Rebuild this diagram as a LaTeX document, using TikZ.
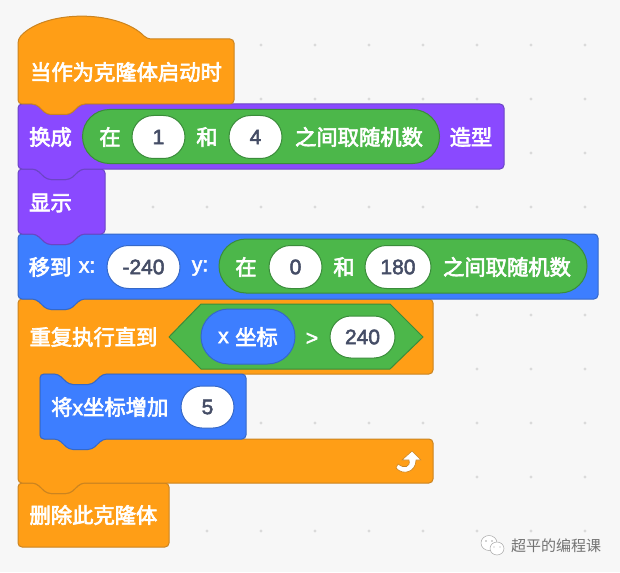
\documentclass[tikz,border=0pt]{standalone}
\usepackage{fontspec}
\usetikzlibrary{shapes.misc}
\setmainfont{Liberation Sans}
\newfontfamily\cjk[FakeBold=3]{Noto Sans CJK SC}
\newfontfamily\lat[FakeBold=2.5]{Liberation Sans}
\newfontfamily\wm{Noto Sans CJK SC}
\definecolor{bg}{HTML}{F7F7F7}
\definecolor{dotc}{HTML}{DADADA}
\definecolor{og}{HTML}{FF9E16}
\definecolor{ogd}{HTML}{CB8420}
\definecolor{pu}{HTML}{8A49FF}
\definecolor{pud}{HTML}{6B45C4}
\definecolor{bl}{HTML}{3D7EFF}
\definecolor{bld}{HTML}{3568C8}
\definecolor{gr}{HTML}{4CB74A}
\definecolor{grd}{HTML}{3A8C3A}
\definecolor{ink}{HTML}{454D66}
\tikzset{
  blk/.style={line width=1pt,rounded corners=4pt,line join=round},
  orangeblk/.style={blk,fill=og,draw=ogd},
  purpleblk/.style={blk,fill=pu,draw=pud},
  blueblk/.style={blk,fill=bl,draw=bld},
  lab/.style={text=white,inner sep=0pt,font=\fontsize{21.3}{21.3}\selectfont\cjk},
  latlab/.style={text=white,inner sep=0pt,font=\fontsize{21}{21}\selectfont\lat},
  pillbase/.style={rounded rectangle,inner sep=0pt,line width=1pt},
  whitepill/.style={pillbase,fill=white,text=ink,font=\fontsize{21}{21}\selectfont\lat},
  greenpill/.style={pillbase,fill=gr,draw=grd},
  bluepill/.style={pillbase,fill=bl,draw=bld},
  griddot/.style={fill=dotc,draw=none}
}
% stack block: top notch and bottom tab
\newcommand{\stackpath}[4]{(#1,#2) -- (#1+18,#2) -- (#1+29,#2+10.5) -- (#1+52,#2+10.5) -- (#1+63,#2) -- (#3,#2) -- (#3,#4) -- (#1+63,#4) -- (#1+52,#4+10.5) -- (#1+29,#4+10.5) -- (#1+18,#4) -- (#1,#4) -- cycle}
\begin{document}
\begin{tikzpicture}[x=1pt,y=-1pt]
\useasboundingbox (0,0) rectangle (620,572);
\fill[bg] (0,0) rectangle (620,572);
% grid dots
\foreach \gx in {45,99,...,585}
  \foreach \gy in {45,99,...,531}
    \fill[griddot] (\gx,\gy) circle (1.6pt);
% delete block (cap: no bottom tab)
\draw[orangeblk] (18,483) -- (36,483) -- (47,493.5) -- (70,493.5) -- (81,483) -- (169,483) -- (169,547) -- (18,547) -- cycle;
\node[lab] (del) at (93.5,515) {删除此克隆体};
% C block
\draw[orangeblk] (18,299) -- (36,299) -- (47,309.5) -- (70,309.5) -- (81,299) -- (433,299) -- (433,374) -- (103,374) -- (92,384.5) -- (69,384.5) -- (58,374) -- (40,374) -- (40,439) -- (433,439) -- (433,483) -- (81,483) -- (70,493.5) -- (47,493.5) -- (36,483) -- (18,483) -- cycle;
\node[lab] (rep) at (93.5,337) {重复执行直到};
% hexagon condition
\draw[line width=1pt,fill=gr,draw=grd,line join=round] (169,337) -- (201,304) -- (390,304) -- (423,337) -- (390,369) -- (201,369) -- cycle;
\node[bluepill,minimum width=94pt,minimum height=55pt] (xpill) at (248,336.5) {};
\node[latlab,anchor=west] (xchar) at (218,337.5) {x};
\node[lab,anchor=east] (xlab) at (278,337) {坐标};
\node[latlab] (gt) at (312,339) {>};
\node[whitepill,draw=grd,minimum width=65pt,minimum height=42pt] (v240) at (362.5,337) {240};
% inner block
\draw[blueblk] \stackpath{40}{374}{246}{439};
\node[lab,anchor=west] (inc) at (51,407) {将\lat x\cjk 坐标增加};
\node[whitepill,draw=bld,minimum width=53pt,minimum height=42pt] (v5) at (207.5,407) {5};
% loop arrow
\draw[fill=white,draw=ogd,line width=.6pt,line join=round] (412,451) -- (421,460) -- (416,460) .. controls (416,472) and (403,476) .. (396,468) -- (398,464) .. controls (404,469) and (411,467) .. (409,460) -- (402,460) -- cycle;
% goto block
\draw[blueblk] \stackpath{18}{234}{598}{299};
\node[lab] (goto) at (50,267) {移到};
\node[latlab] (xc) at (87,267) {x:};
\node[whitepill,draw=bld,minimum width=73pt,minimum height=43pt] (vm240) at (143.5,267) {-240};
\node[latlab] (yc) at (200,268) {y:};
\node[greenpill,minimum width=368pt,minimum height=54pt] (rand2) at (403,266) {};
\node[lab] (zai2) at (246,267) {在};
\node[whitepill,draw=grd,minimum width=53pt,minimum height=43pt] (v0) at (295.5,267) {0};
\node[lab] (he2) at (344,267) {和};
\node[whitepill,draw=grd,minimum width=66pt,minimum height=43pt] (v180) at (398,267) {180};
\node[lab] (rtxt2) at (507,267) {之间取随机数};
% show block
\draw[purpleblk] \stackpath{18}{169}{105}{234};
\node[lab] (show) at (50.5,203) {显示};
% costume block
\draw[purpleblk] \stackpath{18}{104}{504}{169};
\node[lab] (sw) at (50.5,137) {换成};
\node[greenpill,minimum width=357pt,minimum height=54pt] (rand1) at (261,136.5) {};
\node[lab] (zai1) at (110,137) {在};
\node[whitepill,draw=grd,minimum width=53pt,minimum height=43pt] (v1) at (158.5,137) {1};
\node[lab] (he1) at (207,137) {和};
\node[whitepill,draw=grd,minimum width=53pt,minimum height=43pt] (v4) at (255.5,137) {4};
\node[lab] (rtxt1) at (359,137) {之间取随机数};
\node[lab] (cost) at (471,137) {造型};
% hat block
\draw[orangeblk] (18,39) .. controls (45,9.5) and (118,9.5) .. (147,39) -- (234,39) -- (234,104) -- (81,104) -- (70,114.5) -- (47,114.5) -- (36,104) -- (18,104) -- cycle;
\node[lab] (hat) at (126,72) {当作为克隆体启动时};
% watermark
\draw[fill=white,draw=gray!70,line width=.5pt] (489,543) ellipse (8pt and 7.5pt);
\draw[fill=white,draw=gray!70,line width=.5pt] (497,548.5) ellipse (7pt and 6.5pt);
\fill[gray!70] (486,541) circle (.9pt) (492,541) circle (.9pt) (494,547) circle (.7pt) (500,547) circle (.7pt);
\node[inner sep=0pt,text=black!55,font=\fontsize{15}{15}\selectfont\wm] (wmk) at (556,546) {超平的编程课};
\end{tikzpicture}
\end{document}
